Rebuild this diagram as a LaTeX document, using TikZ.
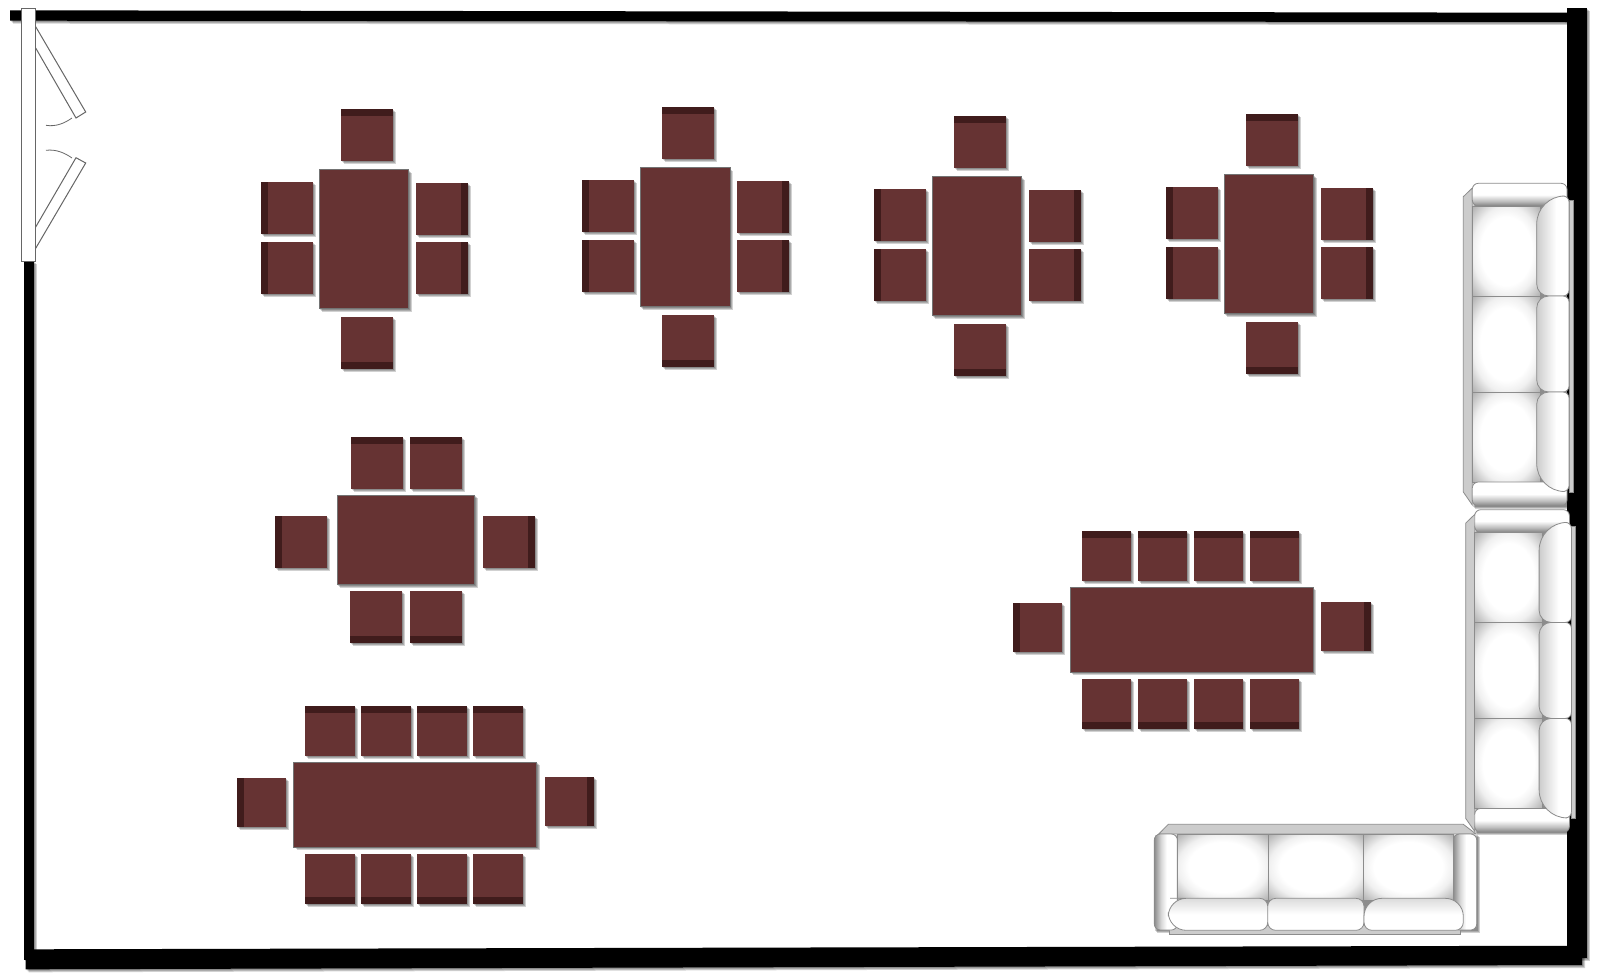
\documentclass[tikz,border=0pt]{standalone}
\definecolor{tablered}{HTML}{663333}
\definecolor{bandred}{HTML}{401C1C}
\definecolor{sofagrey}{HTML}{CCCCCC}
\pgfdeclareradialshading{seatglow}{\pgfpoint{0bp}{0bp}}{color(0bp)=(white); color(19bp)=(white); color(25bp)=(black!6); color(35.5bp)=(black!32); color(50bp)=(black!32)}
\pgfdeclareverticalshading{armshade}{100bp}{color(0bp)=(black!50); color(25bp)=(black!50); color(36bp)=(black!25); color(50bp)=(white); color(100bp)=(white)}
\pgfdeclarehorizontalshading{sidearm}{100bp}{color(0bp)=(black!45); color(25bp)=(black!45); color(40bp)=(black!15); color(52bp)=(white); color(100bp)=(white)}
\pgfdeclarehorizontalshading{cushionshade}{100bp}{color(0bp)=(black!20); color(25bp)=(black!20); color(55bp)=(white); color(100bp)=(white)}
\pgfdeclareverticalshading{couchshade}{100bp}{color(0bp)=(white); color(50bp)=(white); color(75bp)=(black!14); color(100bp)=(black!14)}
\tikzset{
  sofaline/.style={draw=black!45, line width=0.4pt},
  strip/.style={sofaline, fill=sofagrey},
  glow/.style={sofaline, shading=seatglow},
  topper/.style={sofaline, fill=tablered, draw=black!55},
}
\newcommand{\softshadow}[1]{%
  \foreach \d in {1,2,3}{\fill[black, opacity=0.18, shift={(\d,\d)}] #1;}}
\newcommand{\seat}[3]{%
  \softshadow{(#1,#2) rectangle ++(#3,#3)}
  \fill[tablered] (#1,#2) rectangle ++(#3,#3);}
\newcommand{\seatT}[3]{\seat{#1}{#2}{#3}\fill[bandred] (#1,#2) rectangle ++(#3,7);}
\newcommand{\seatB}[3]{\seat{#1}{#2}{#3}\fill[bandred] (#1,#2+#3-7) rectangle ++(#3,7);}
\newcommand{\seatL}[3]{\seat{#1}{#2}{#3}\fill[bandred] (#1,#2) rectangle ++(7,#3);}
\newcommand{\seatR}[3]{\seat{#1}{#2}{#3}\fill[bandred] (#1+#3-7,#2) rectangle ++(7,#3);}
\newcommand{\tabletop}[4]{%
  \softshadow{(#1,#2) rectangle (#3,#4)}
  \draw[topper] (#1,#2) rectangle (#3,#4);}
\newcommand{\squaregroup}[2]{%
  \begin{scope}[shift={(#1,#2)}]
  \seatT{341}{108.5}{52}
  \seatL{261}{182}{52}
  \seatL{261}{241.5}{52}
  \tabletop{319}{169.5}{408.5}{308.5}
  \seatR{416}{182.5}{52}
  \seatR{416}{241.5}{52}
  \seatB{341}{317}{52}
  \end{scope}}
\newcommand{\longgroup}[2]{%
  \begin{scope}[shift={(#1,#2)}]
  \foreach \sx in {305,361,417,473}{\seatT{\sx}{706}{49.7}\seatB{\sx}{854}{49.7}}
  \seatL{236.5}{777.5}{49}
  \seatR{544.5}{776.5}{49.7}
  \tabletop{293.5}{762}{536.5}{847}
  \end{scope}}
\newcommand{\cushion}[4]{%
  \shadedraw[sofaline, shading=cushionshade] (1569,#1) [rounded corners=#3] -- (1536.7,#1) [rounded corners=#4] -- (1536.7,#2) [rounded corners=3] -- (1569,#2) -- cycle;}
\newcommand{\sidesofa}[2]{%
  \begin{scope}[shift={(#1,#2)}]
  \softshadow{(1472,190) rectangle (1568,506)}
  \filldraw[strip] (1463.3,196.7) -- (1472.3,188) -- (1472.3,505) -- (1463.3,492) -- cycle;
  \filldraw[strip] (1569,200) rectangle (1573,492);
  \shadedraw[glow] (1472.3,206) rectangle (1540,296);
  \shadedraw[glow] (1472.3,296) rectangle (1540,392);
  \shadedraw[glow] (1472.3,392) rectangle (1540,482);
  \shadedraw[sofaline, shading=armshade, rounded corners=3] (1472.3,206) -- (1472.3,183.3) -- (1567,183.3) -- (1567,206) -- cycle;
  \shadedraw[sofaline, shading=armshade, rounded corners=3] (1472.3,482) -- (1472.3,506) -- (1567,506) -- (1567,482) -- cycle;
  \cushion{196}{296}{14}{6}
  \cushion{296}{392}{6}{6}
  \shadedraw[sofaline, shading=cushionshade] (1569,392) [rounded corners=6] -- (1536.7,392) [rounded corners=14] -- (1536.7,491.5) [rounded corners=3] -- (1569,491.5) -- cycle;
  \end{scope}}
\begin{document}
\begin{tikzpicture}[x=0.5pt, y=-0.5pt]
\useasboundingbox (0,0) rectangle (1600,975);
\fill[white] (0,0) rectangle (1600,975);

% walls
\softshadow{(10,10.3) -- (1568,12.7) -- (1568,22) -- (10,20.7) -- cycle}
\softshadow{(1567.3,8) rectangle (1586.7,958)}
\softshadow{(24,261) rectangle (34.3,960)}
\softshadow{(25.7,949.3) -- (1582,945.7) -- (1582,965) -- (25.7,969.3) -- cycle}
\fill[black] (10,10.3) -- (1568,12.7) -- (1568,22) -- (10,20.7) -- cycle;
\fill[black] (24,261) rectangle (34.3,960);
\fill[black] (1567.3,8) rectangle (1586.7,958);
\fill[black] (25.7,949.3) -- (1582,945.7) -- (1582,965) -- (25.7,969.3) -- cycle;

% door
\draw[black!60, fill=white, line width=0.5pt] (35.7,26.7) -- (85.7,112) -- (76,118) -- (35.7,48);
\draw[black!60, fill=white, line width=0.5pt] (35.7,248.3) -- (85.7,163) -- (76,157.7) -- (35.7,227);
\draw[black!60, line width=0.4pt] (46,125.3) .. controls (56,127) and (65,123) .. (72,118);
\draw[black!60, line width=0.4pt] (46,150.3) .. controls (56,149) and (65,153) .. (72,158);
\draw[black!60, fill=white, line width=0.5pt] (21.3,8.3) rectangle (35.7,261.3);

% tables
\squaregroup{0}{0}
\squaregroup{321.4}{-2}
\squaregroup{613.3}{7.1}
\squaregroup{905}{5.1}

\seatT{351}{437}{52}
\seatT{410}{437}{52}
\seatL{275}{516}{52}
\seatR{483}{516}{52}
\tabletop{337}{495}{474.5}{584.5}
\seatB{350}{591}{52}
\seatB{410}{591}{52}

\longgroup{0}{0}
\longgroup{776.7}{-175}

% sofas
\sidesofa{0}{0}
\sidesofa{2.4}{326.4}

\softshadow{(1154.3,834) rectangle (1476.7,930)}
\filldraw[strip] (1169.3,925) rectangle (1460,934.3);
\filldraw[strip] (1158.7,834) -- (1168.3,824.3) -- (1463.3,824.3) -- (1476,834) -- cycle;
\shadedraw[sofaline, shading=sidearm, rounded corners=3] (1177.3,834) -- (1154.3,834) -- (1154.3,930) -- (1177.3,930) -- cycle;
\shadedraw[sofaline, shading=sidearm, rounded corners=3] (1453.3,834) -- (1476.7,834) -- (1476.7,930) -- (1453.3,930) -- cycle;
\shadedraw[glow] (1177.3,834) rectangle (1268.3,900);
\shadedraw[glow] (1268.3,834) rectangle (1363,900);
\shadedraw[glow] (1363,834) rectangle (1453.3,900);
\shadedraw[sofaline, shading=couchshade] (1267.7,898.3) [rounded corners=4] -- (1178,898.3) [rounded corners=9] -- (1168.3,898.3) [rounded corners=9] -- (1168.3,930.3) [rounded corners=4] -- (1267.7,930.3) -- cycle;
\shadedraw[sofaline, shading=couchshade, rounded corners=4] (1267.7,898.3) rectangle (1364,930.3);
\shadedraw[sofaline, shading=couchshade] (1364,898.3) [rounded corners=4] -- (1364,930.3) -- (1463.3,930.3) [rounded corners=9] -- (1463.3,898.3) -- cycle;
\end{tikzpicture}
\end{document}
